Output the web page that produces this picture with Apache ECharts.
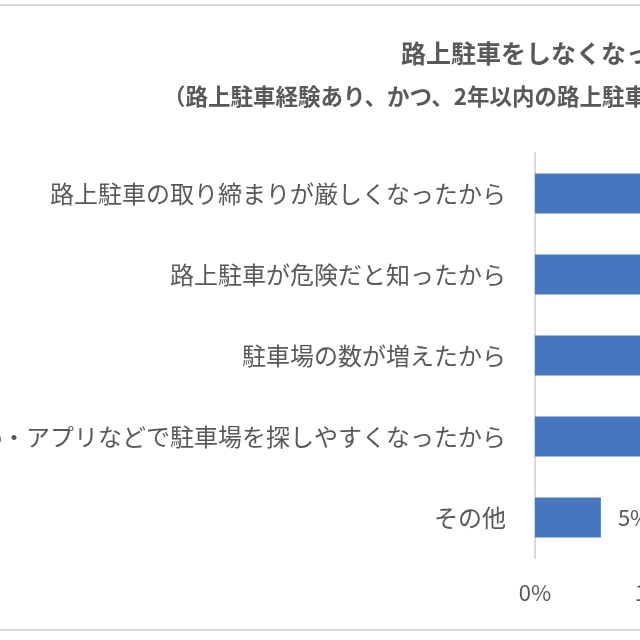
<!DOCTYPE html>
<html lang="ja">
<head>
  <meta charset="UTF-8">
  <title>路上駐車をしなくなった理由</title>
  <style>
    body { margin: 0; background: #fff; }
    #main { width: 640px; height: 640px; }
  </style>
</head>
<body>
<div id="main"></div>
<script src="https://cdn.jsdelivr.net/npm/echarts@6/dist/echarts.min.js"></script>
<script>
  // 理由（上から順）
  let reasons = [
    '路上駐車の取り締まりが厳しくなったから',
    '路上駐車が危険だと知ったから',
    '駐車場の数が増えたから',
    'Web・アプリなどで駐車場を探しやすくなったから',
    'その他'
  ];
  // 割合（%）- 画面外に切れている棒は推定
  let shares = [38.0, 27.0, 21.0, 17.0, 5.4];
  let xTicks = [0, 10, 20, 30, 40, 50];

  let font = '"Noto Sans CJK JP", "Noto Sans", sans-serif';
  let gray = '#595959';

  let chart = echarts.init(document.getElementById('main'));
  let option = {
    backgroundColor: '#fff',
    textStyle: { fontFamily: font },
    title: [{
      text: '路上駐車をしなくなった理由',
      left: 396,
      top: 36,
      textStyle: { fontSize: 25, fontWeight: 'bold', color: gray, fontFamily: font }
    }, {
      text: '（路上駐車経験あり、かつ、2年以内の路上駐車をしなくなった人）',
      left: 158,
      top: 80,
      textStyle: { fontSize: 22.5, fontWeight: 'bold', color: gray, fontFamily: font }
    }],
    graphic: [
      { type: 'rect', shape: { x: 0, y: 4, width: 640, height: 2 }, style: { fill: '#d9d9d9' } },
      { type: 'rect', shape: { x: 0, y: 629, width: 640, height: 2 }, style: { fill: '#d9d9d9' } }
    ],
    grid: { left: 535, top: 153, width: 610, height: 405, outerBoundsMode: 'none', containLabel: false },
    xAxis: {
      type: 'value',
      min: xTicks[0],
      max: xTicks[xTicks.length - 1],
      interval: 10,
      axisLine: { show: false },
      axisTick: { show: false },
      splitLine: { show: true, lineStyle: { color: '#d9d9d9' } },
      axisLabel: { formatter: '{value}%', fontSize: 22, color: gray, margin: 24 }
    },
    yAxis: {
      type: 'category',
      data: reasons,
      inverse: true,
      axisLine: { show: true, lineStyle: { color: '#d9d9d9', width: 2 } },
      axisTick: { show: false },
      axisLabel: { fontSize: 24, color: gray, margin: 29 }
    },
    series: [{
      type: 'bar',
      data: shares,
      barWidth: 40,
      itemStyle: { color: '#4677be' },
      label: {
        show: true,
        position: 'right',
        distance: 17,
        fontSize: 22,
        color: gray,
        formatter: function (p) { return p.value.toFixed(0) + '%'; }
      },
      animation: false
    }]
  };
  chart.setOption(option);
</script>
</body>
</html>
